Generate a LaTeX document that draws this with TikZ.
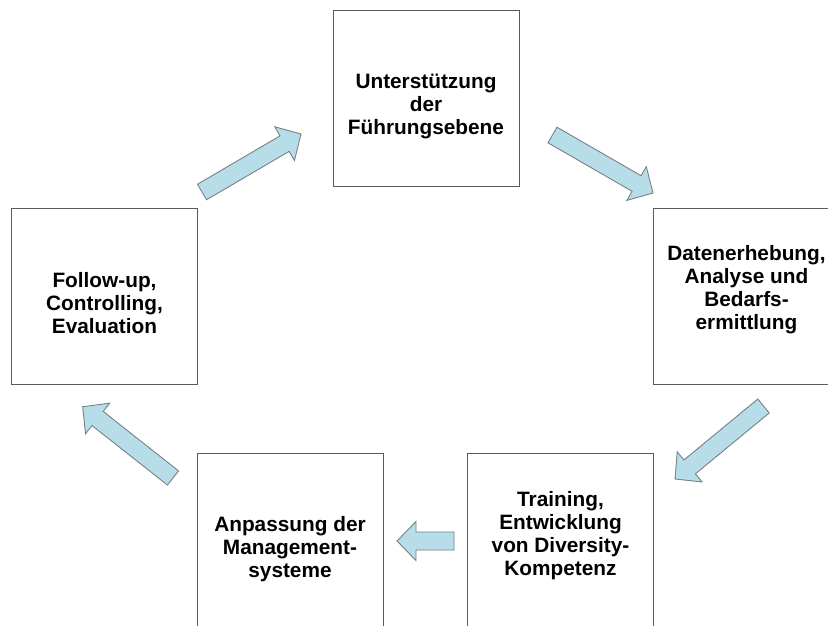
\documentclass[tikz,border=0pt]{standalone}
\usepackage{fontspec}
\setmainfont{Liberation Sans}
\usetikzlibrary{calc}
\definecolor{arrowfill}{RGB}{183,222,232}
\definecolor{arrowline}{RGB}{120,128,132}
\definecolor{boxline}{RGB}{90,90,90}
\newcommand\barrow[2]{%
  \coordinate (#1-b) at ($(#2)!19pt!(#1)$);
  \draw[arrowstyle] ($(#1)!9pt!90:(#2)$) -- ($(#1-b)!9pt!90:(#2)$) -- ($(#1-b)!19.5pt!90:(#2)$) -- (#2) -- ($(#1-b)!19.5pt!-90:(#2)$) -- ($(#1-b)!9pt!-90:(#2)$) -- ($(#1)!9pt!-90:(#2)$) -- cycle;}
\begin{document}
\begin{tikzpicture}[x=1pt,y=-1pt,
  box/.style={draw=boxline, line width=1pt, minimum width=186pt, minimum height=176pt, inner sep=0pt},
  lbl/.style={font=\bfseries\fontsize{20.8}{23}\selectfont, align=center, inner sep=0pt},
  arrowstyle/.style={fill=arrowfill, draw=arrowline, line width=0.9pt, line join=miter}]
\useasboundingbox (0,0) rectangle (828,625);
% boxes
\node[box] (top) at (426,98) {};
\node[box] (right) at (746.5,296) {};
\node[box] (br) at (560.5,541) {};
\node[box] (bl) at (290,541) {};
\node[box] (left) at (104.5,296) {};
% texts
\node[lbl] (toptxt) at ([yshift=-8pt]top.center) {Unterstützung\\der\\Führungsebene};
\node[lbl] (righttxt) at ([yshift=6pt]right.center) {Datenerhebung,\\Analyse und\\Bedarfs-\\ermittlung};
\node[lbl] (brtxt) at ([yshift=5.5pt]br.center) {Training,\\Entwicklung\\von Diversity-\\Kompetenz};
\node[lbl] (bltxt) at ([yshift=-8pt]bl.center) {Anpassung der\\Management-\\systeme};
\node[lbl] (lefttxt) at ([yshift=-7pt]left.center) {Follow-up,\\Controlling,\\Evaluation};
% arrows
\coordinate (a1t) at (202,192);   \coordinate (a1h) at (301,134);
\coordinate (a2t) at (552.5,135); \coordinate (a2h) at (653,193);
\coordinate (a3t) at (763.5,406); \coordinate (a3h) at (675,479);
\coordinate (a4t) at (454,541);   \coordinate (a4h) at (397,541);
\coordinate (a5t) at (173,478);   \coordinate (a5h) at (82.7,406.7);
\barrow{a1t}{a1h}
\barrow{a2t}{a2h}
\barrow{a3t}{a3h}
\barrow{a4t}{a4h}
\barrow{a5t}{a5h}
\end{tikzpicture}
\end{document}
